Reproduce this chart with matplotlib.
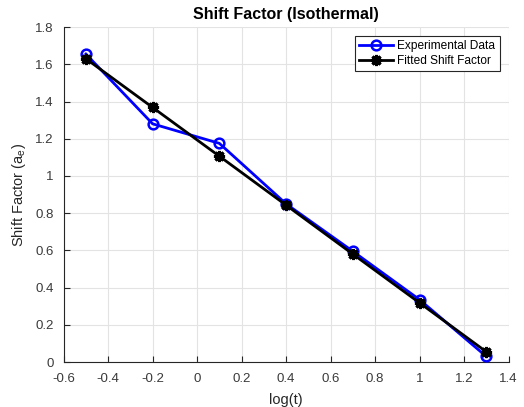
import matplotlib
matplotlib.use("Agg")
import matplotlib.pyplot as plt

plt.rcParams['font.family'] = ['Liberation Sans', 'DejaVu Sans']

log_t = [-0.5, -0.2, 0.1, 0.4, 0.7, 1.0, 1.3]
experimental = [1.655, 1.28, 1.175, 0.85, 0.595, 0.335, 0.03]
fitted = [1.63, 1.368, 1.106, 0.843, 0.58, 0.318, 0.055]

x_ticks = [-0.6, -0.4, -0.2, 0, 0.2, 0.4, 0.6, 0.8, 1, 1.2, 1.4]
x_labels = ['-0.6', '-0.4', '-0.2', '0', '0.2', '0.4', '0.6', '0.8', '1', '1.2', '1.4']
y_ticks = [0, 0.2, 0.4, 0.6, 0.8, 1.0, 1.2, 1.4, 1.6, 1.8]
y_labels = ['0', '0.2', '0.4', '0.6', '0.8', '1', '1.2', '1.4', '1.6', '1.8']

fig = plt.figure(figsize=(5.24, 4.07), dpi=100)
ax = fig.add_axes([0.1215, 0.1105, 0.849, 0.823])

ax.plot(log_t, experimental, color='#0000ff', linewidth=2, marker='o',
        markersize=7, markerfacecolor='none', markeredgewidth=1.8,
        label='Experimental Data', zorder=3)
ax.plot(log_t, fitted, color='black', linewidth=2, marker=(8, 2, 0),
        markersize=8, markeredgewidth=2.2,
        label='Fitted Shift Factor', zorder=4)

ax.set_xlim(-0.6, 1.4)
ax.set_ylim(0, 1.8)
ax.set_xticks(x_ticks)
ax.set_xticklabels(x_labels)
ax.set_yticks(y_ticks)
ax.set_yticklabels(y_labels)

ax.grid(True, color='#e3e3e3', linewidth=0.8)
ax.set_axisbelow(True)
for side in ('top', 'right'):
    ax.spines[side].set_visible(False)
for side in ('left', 'bottom'):
    ax.spines[side].set_color('#262626')
    ax.spines[side].set_linewidth(0.8)
ax.tick_params(direction='in', length=4, width=0.8, color='#262626',
               labelcolor='#3a3a3a', labelsize=9.5)
ax.tick_params(axis='x', pad=8)
ax.tick_params(axis='y', pad=7)

ax.set_xlabel('log(t)', fontsize=10.5, color='#262626', labelpad=6)
ax.set_ylabel('Shift Factor (a$_\\mathregular{e}$)', fontsize=10.5,
              color='#262626', labelpad=5)
ax.set_title('Shift Factor (Isothermal)', fontsize=11.5, fontweight='bold',
             color='black', pad=6)

leg = ax.legend(loc='upper right', fontsize=8.6, frameon=True, fancybox=False,
                edgecolor='#262626', framealpha=1, borderpad=0.35,
                handlelength=2.8, labelspacing=0.22, handletextpad=0.4,
                borderaxespad=0, bbox_to_anchor=(0.98, 0.973))
leg.get_frame().set_linewidth(0.8)

fig.savefig('out.png', dpi=100)
